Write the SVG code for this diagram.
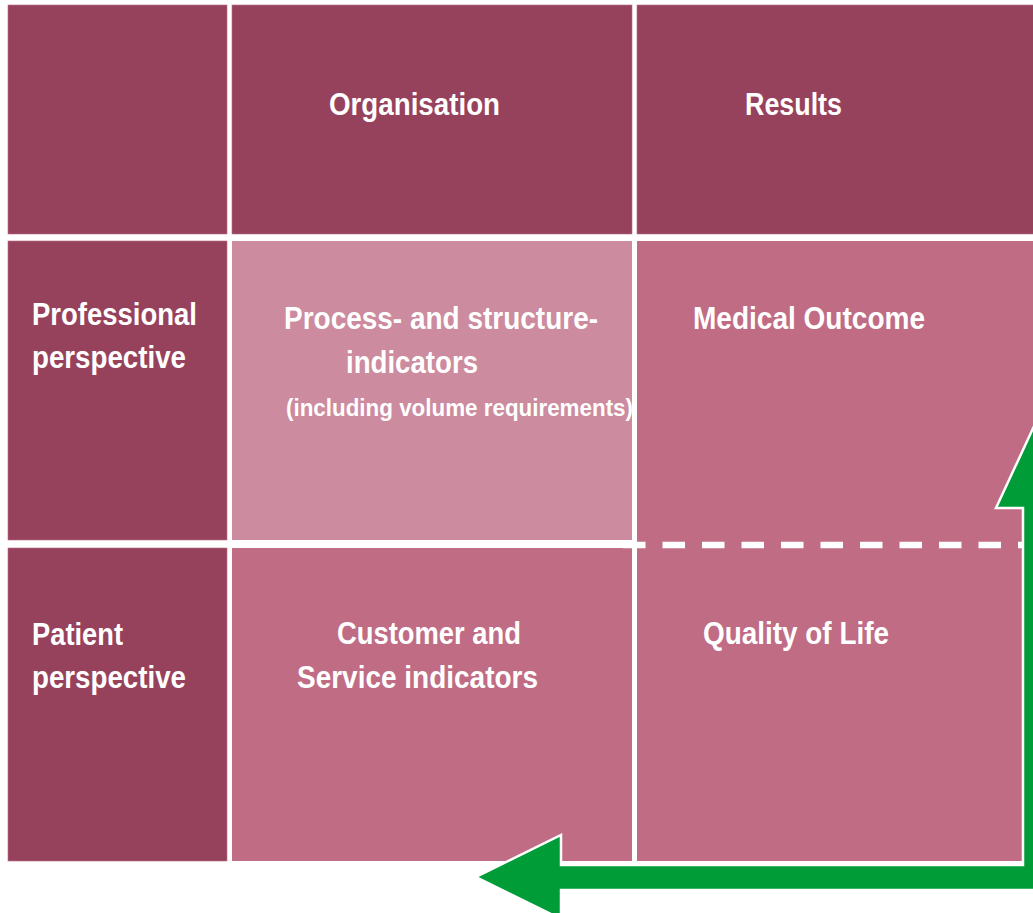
<svg xmlns="http://www.w3.org/2000/svg" width="1033" height="913" viewBox="0 0 1033 913">
<style>
.dark{fill:#97425D;stroke:#B96C84;stroke-width:0.6}
.light{fill:#CC8B9E}
.mid{fill:#C06C85}
text{font-family:"Liberation Sans",Arial,sans-serif;font-weight:bold;fill:#FFFFFF}
.t{font-size:32px}
.s{font-size:23px}
</style>
<rect width="1033" height="913" fill="#FFFFFF"/>
<g id="corner"><rect class="dark" x="8" y="5" width="219" height="229"/></g>
<g id="organisation"><rect class="dark" x="232" y="5" width="400" height="229"/>
<text class="t" x="329" y="115" textLength="171" lengthAdjust="spacingAndGlyphs">Organisation</text></g>
<g id="results"><rect class="dark" x="637" y="5" width="400" height="229"/>
<text class="t" x="745" y="115" textLength="97" lengthAdjust="spacingAndGlyphs">Results</text></g>
<g id="professional"><rect class="dark" x="8" y="241" width="219" height="299"/>
<text class="t" x="32" y="325" textLength="165" lengthAdjust="spacingAndGlyphs">Professional</text>
<text class="t" x="32" y="368" textLength="154" lengthAdjust="spacingAndGlyphs">perspective</text></g>
<g id="patient"><rect class="dark" x="8" y="548" width="219" height="313"/>
<text class="t" x="32" y="645" textLength="91" lengthAdjust="spacingAndGlyphs">Patient</text>
<text class="t" x="32" y="688" textLength="154" lengthAdjust="spacingAndGlyphs">perspective</text></g>
<g id="process"><rect class="light" x="232" y="241" width="400" height="299"/>
<text class="t" x="284" y="329" textLength="314" lengthAdjust="spacingAndGlyphs">Process- and structure-</text>
<text class="t" x="346" y="373" textLength="132" lengthAdjust="spacingAndGlyphs">indicators</text>
<text class="s" x="286" y="416" textLength="347" lengthAdjust="spacingAndGlyphs">(including volume requirements)</text></g>
<g id="customer"><rect class="mid" x="232" y="548" width="400" height="313"/>
<text class="t" x="337" y="644" textLength="184" lengthAdjust="spacingAndGlyphs">Customer and</text>
<text class="t" x="297" y="688" textLength="241" lengthAdjust="spacingAndGlyphs">Service indicators</text></g>
<g id="outcomes"><rect class="mid" x="637" y="241" width="400" height="620"/>
<text class="t" x="693" y="329" textLength="232" lengthAdjust="spacingAndGlyphs">Medical Outcome</text>
<text class="t" x="703" y="644" textLength="186" lengthAdjust="spacingAndGlyphs">Quality of Life</text></g>
<g id="connectors">
<line x1="623" y1="545" x2="1022" y2="545" stroke="#FFFFFF" stroke-width="6.5" stroke-dasharray="22.5 17"/>
<path d="M476,877 L561,835 L561,865 L1023,865 L1023,508 L996,508 L1035.5,423 L1075,508 L1048,508 L1048,890 L561,890 L561,919 Z" fill="#009C38" stroke="#FFFFFF" stroke-width="2.5" stroke-linejoin="miter"/>
</g>
</svg>
